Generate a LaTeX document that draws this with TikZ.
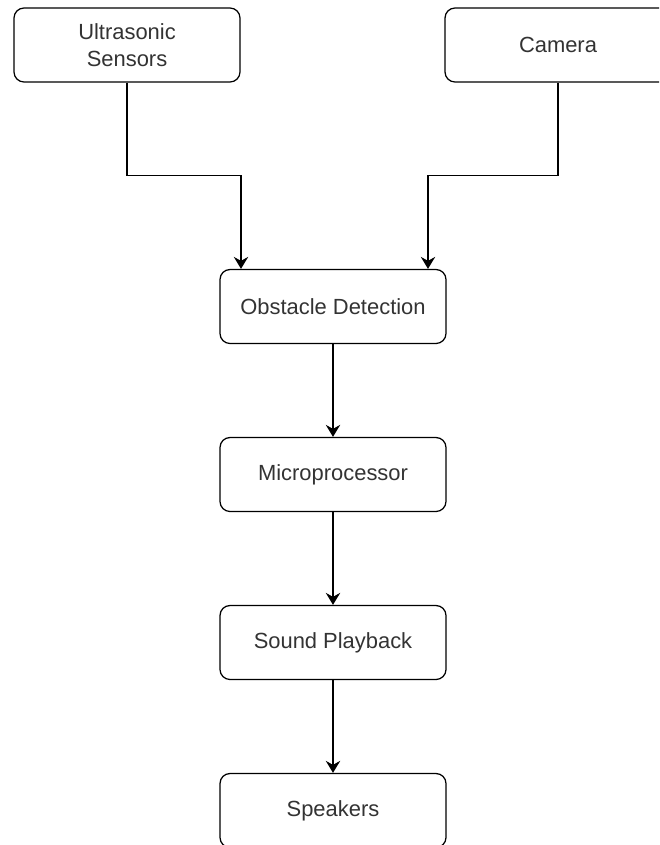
\documentclass[tikz,border=0pt]{standalone}
\usepackage{fontspec}
\setmainfont{Liberation Sans}
\usepackage{xcolor}
\usepackage{tikz}
\usetikzlibrary{arrows.meta}
\definecolor{labelgray}{HTML}{333333}
\tikzstyle{block}=[draw, line width=0.9pt, rounded corners=0.25cm, minimum width=5.65cm, minimum height=1.85cm, align=center, text=labelgray, font=\fontsize{15.6}{19}\selectfont]
\tikzstyle{flow}=[line width=0.9pt, -{Stealth[length=3mm, width=3.6mm, inset=1mm]}]

\begin{document}
\begin{tikzpicture}
        % Frame
        \useasboundingbox (0,0) rectangle (16.475,-21.125);
        \clip (0,0) rectangle (16.475,-21.125);

        % Inputs
        \node[block] (ultra) at (3.175,-1.125) {Ultrasonic\\Sensors};
        \node[block] (camera) at (13.95,-1.125) {Camera};

        % Processing chain
        \def\step{4.2}
        \node[block] (detect) at (8.325,-7.6625) {Obstacle Detection};
        \node[block] (micro) at (8.325,-7.6625-\step) {Microprocessor};
        \node[block] (playback) at (8.325,-7.6625-2*\step) {Sound Playback};
        \node[block] (speakers) at (8.325,-7.6625-3*\step) {Speakers};

        % Input connectors
        \draw[flow] (ultra.south) -- ++(0,-2.325) -| ([xshift=-2.3cm]detect.north);
        \draw[flow] (camera.south) -- ++(0,-2.325) -| ([xshift=2.375cm]detect.north);

        % Chain connectors
        \draw[flow] (detect) -- (micro);
        \draw[flow] (micro) -- (playback);
        \draw[flow] (playback) -- (speakers);
\end{tikzpicture}
\end{document}
